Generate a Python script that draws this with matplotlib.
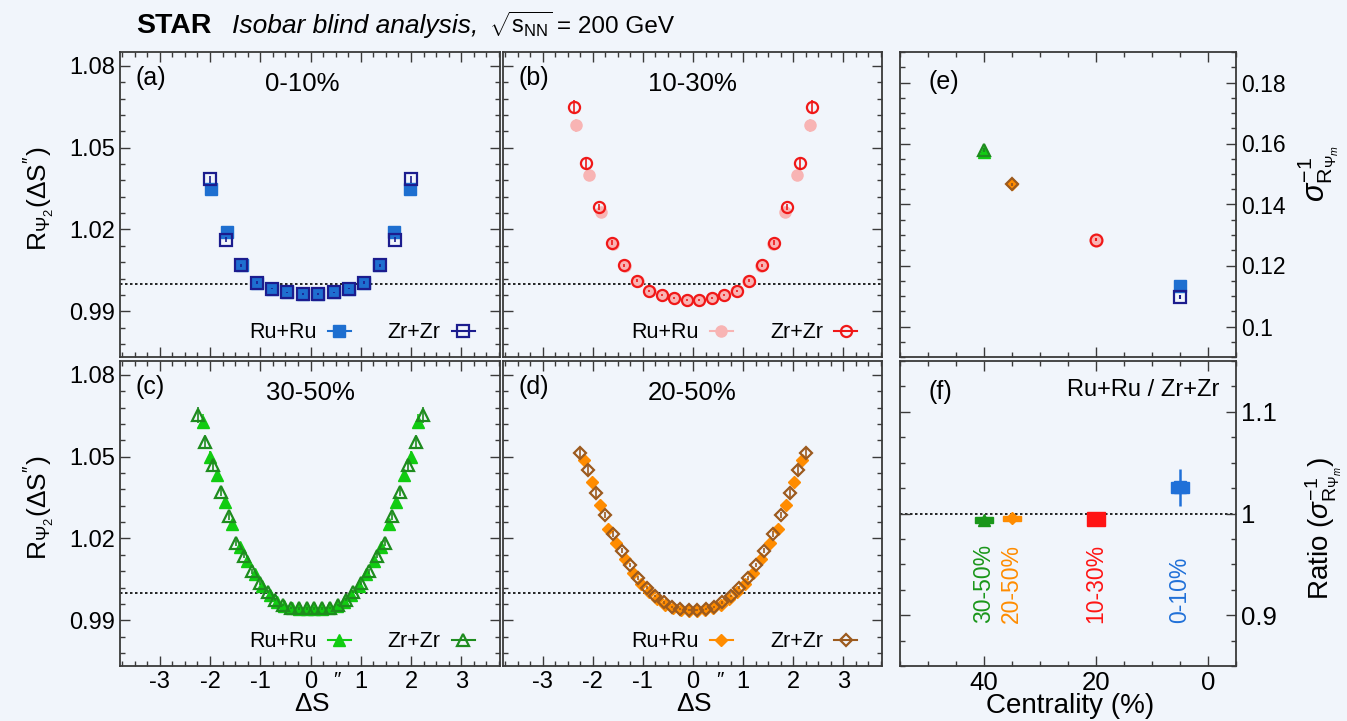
import matplotlib
matplotlib.use('Agg')
import matplotlib.pyplot as plt
from matplotlib.lines import Line2D
from matplotlib.ticker import MultipleLocator, FixedLocator, FixedFormatter
import matplotlib.transforms as mtransforms

plt.rcParams['font.family'] = ['Liberation Sans', 'DejaVu Sans']
plt.rcParams['mathtext.fontset'] = 'custom'
plt.rcParams['mathtext.rm'] = 'Liberation Sans'
plt.rcParams['mathtext.it'] = 'Liberation Sans:italic'
plt.rcParams['mathtext.bf'] = 'Liberation Sans:bold'
plt.rcParams['axes.unicode_minus'] = False

# ---------------- data ----------------
# (a) 0-10%
a_zr_x = [-1.99, -1.69, -1.38, -1.07, -0.77, -0.46, -0.15, 0.15, 0.46, 0.77, 1.07, 1.38, 1.69, 1.99]
a_zr_y = [1.0384, 1.0163, 1.0069, 1.0005, 0.9983, 0.9969, 0.9963, 0.9963, 0.9969, 0.9983, 1.0005, 1.0069, 1.0163, 1.0384]
a_zr_e = [0.0012, 0.0008, 0.0005, 0.0004, 0.0003, 0.0003, 0.0003, 0.0003, 0.0003, 0.0003, 0.0004, 0.0005, 0.0008, 0.0012]
a_ru_x = [-1.97, -1.67, -1.37, -1.06, -0.76, -0.46, -0.15, 0.15, 0.46, 0.76, 1.06, 1.37, 1.67, 1.97]
a_ru_y = [1.0347, 1.0191, 1.0068, 1.0004, 0.9983, 0.9969, 0.9963, 0.9963, 0.9969, 0.9983, 1.0004, 1.0068, 1.0191, 1.0347]
a_ru_e = [0.0012, 0.0008, 0.0005, 0.0004, 0.0003, 0.0003, 0.0003, 0.0003, 0.0003, 0.0003, 0.0004, 0.0005, 0.0008, 0.0012]

# (b) 10-30%
b_zr_x = [-2.375, -2.125, -1.875, -1.625, -1.375, -1.125, -0.875, -0.625, -0.375, -0.125,
          0.125, 0.375, 0.625, 0.875, 1.125, 1.375, 1.625, 1.875, 2.125, 2.375]
b_zr_y = [1.0651, 1.0443, 1.0283, 1.0152, 1.0069, 1.0012, 0.9975, 0.9959, 0.9948, 0.9942,
          0.9942, 0.9948, 0.9959, 0.9975, 1.0012, 1.0069, 1.0152, 1.0283, 1.0443, 1.0651]
b_zr_e = [0.0025, 0.0018, 0.0012, 0.0008, 0.0006, 0.0005, 0.0004, 0.0004, 0.0004, 0.0004,
          0.0004, 0.0004, 0.0004, 0.0004, 0.0005, 0.0006, 0.0008, 0.0012, 0.0018, 0.0025]
b_ru_x = [-2.33, -2.08, -1.84, -1.59, -1.35, -1.10, -0.86, -0.61, -0.37, -0.12,
          0.12, 0.37, 0.61, 0.86, 1.10, 1.35, 1.59, 1.84, 2.08, 2.33]
b_ru_y = [1.0583, 1.0400, 1.0265, 1.0145, 1.0065, 1.0010, 0.9974, 0.9958, 0.9947, 0.9941,
          0.9941, 0.9947, 0.9958, 0.9974, 1.0010, 1.0065, 1.0145, 1.0265, 1.0400, 1.0583]
b_ru_e = [0.0024, 0.0017, 0.0011, 0.0008, 0.0006, 0.0005, 0.0004, 0.0004, 0.0004, 0.0004,
          0.0004, 0.0004, 0.0004, 0.0004, 0.0005, 0.0006, 0.0008, 0.0011, 0.0017, 0.0024]

# (c) 30-50%
c_zr_x = [-2.248, -2.093, -1.938, -1.783, -1.628, -1.473, -1.318, -1.163, -1.008, -0.853, -0.698, -0.543, -0.388, -0.233, -0.078,
          0.078, 0.233, 0.388, 0.543, 0.698, 0.853, 1.008, 1.163, 1.318, 1.473, 1.628, 1.783, 1.938, 2.093, 2.248]
c_zr_y = [1.0653, 1.0555, 1.0469, 1.0371, 1.0281, 1.0183, 1.0136, 1.0079, 1.0036, 1.0004, 0.9975, 0.9956, 0.9946, 0.9943, 0.9943,
          0.9943, 0.9943, 0.9946, 0.9956, 0.9975, 1.0004, 1.0036, 1.0079, 1.0136, 1.0183, 1.0281, 1.0371, 1.0469, 1.0555, 1.0653]
c_zr_e = [0.0028, 0.0024, 0.0020, 0.0016, 0.0013, 0.0011, 0.0009, 0.0008, 0.0007, 0.0006, 0.0005, 0.0005, 0.0004, 0.0004, 0.0004,
          0.0004, 0.0004, 0.0004, 0.0005, 0.0005, 0.0006, 0.0007, 0.0008, 0.0009, 0.0011, 0.0013, 0.0016, 0.0020, 0.0024, 0.0028]
c_ru_x = [-2.147, -1.999, -1.851, -1.703, -1.555, -1.407, -1.259, -1.111, -0.963, -0.815, -0.667, -0.518, -0.370, -0.222, -0.074,
          0.074, 0.222, 0.370, 0.518, 0.667, 0.815, 0.963, 1.111, 1.259, 1.407, 1.555, 1.703, 1.851, 1.999, 2.147]
c_ru_y = [1.0629, 1.0497, 1.0433, 1.0335, 1.0253, 1.0167, 1.0118, 1.0069, 1.0026, 0.9992, 0.9968, 0.9953, 0.9945, 0.9942, 0.9942,
          0.9942, 0.9942, 0.9945, 0.9953, 0.9968, 0.9992, 1.0026, 1.0069, 1.0118, 1.0167, 1.0253, 1.0335, 1.0433, 1.0497, 1.0629]
c_ru_e = [0.0026, 0.0022, 0.0019, 0.0015, 0.0012, 0.0010, 0.0009, 0.0008, 0.0007, 0.0006, 0.0005, 0.0005, 0.0004, 0.0004, 0.0004,
          0.0004, 0.0004, 0.0004, 0.0005, 0.0005, 0.0006, 0.0007, 0.0008, 0.0009, 0.0010, 0.0012, 0.0015, 0.0019, 0.0022, 0.0026]

# (d) 20-50%
d_zr_x = [-2.260, -2.093, -1.925, -1.758, -1.591, -1.423, -1.256, -1.088, -0.921, -0.754, -0.586, -0.419, -0.251, -0.084,
          0.084, 0.251, 0.419, 0.586, 0.754, 0.921, 1.088, 1.256, 1.423, 1.591, 1.758, 1.925, 2.093, 2.260]
d_zr_y = [1.0512, 1.0451, 1.0365, 1.0286, 1.0216, 1.0155, 1.0103, 1.0054, 1.0020, 0.9989, 0.9965, 0.9949, 0.9940, 0.9937,
          0.9937, 0.9940, 0.9949, 0.9965, 0.9989, 1.0020, 1.0054, 1.0103, 1.0155, 1.0216, 1.0286, 1.0365, 1.0451, 1.0512]
d_zr_e = [0.0022, 0.0018, 0.0015, 0.0012, 0.0010, 0.0009, 0.0008, 0.0007, 0.0006, 0.0005, 0.0005, 0.0004, 0.0004, 0.0004,
          0.0004, 0.0004, 0.0004, 0.0005, 0.0005, 0.0006, 0.0007, 0.0008, 0.0009, 0.0010, 0.0012, 0.0015, 0.0018, 0.0022]
d_ru_x = [-2.170, -2.009, -1.848, -1.688, -1.527, -1.366, -1.206, -1.045, -0.884, -0.724, -0.563, -0.402, -0.241, -0.081,
          0.081, 0.241, 0.402, 0.563, 0.724, 0.884, 1.045, 1.206, 1.366, 1.527, 1.688, 1.848, 2.009, 2.170]
d_ru_y = [1.0488, 1.0406, 1.0324, 1.0234, 1.0185, 1.0124, 1.0075, 1.0034, 1.0005, 0.9977, 0.9956, 0.9944, 0.9938, 0.9934,
          0.9934, 0.9938, 0.9944, 0.9956, 0.9977, 1.0005, 1.0034, 1.0075, 1.0124, 1.0185, 1.0234, 1.0324, 1.0406, 1.0488]
d_ru_e = [0.0021, 0.0017, 0.0014, 0.0011, 0.0010, 0.0009, 0.0008, 0.0007, 0.0006, 0.0005, 0.0005, 0.0004, 0.0004, 0.0004,
          0.0004, 0.0004, 0.0004, 0.0005, 0.0005, 0.0006, 0.0007, 0.0008, 0.0009, 0.0010, 0.0011, 0.0014, 0.0017, 0.0021]

# (e) sigma^-1 vs centrality ; (f) ratio
cent = [40, 35, 20, 5]
cent_labels = ['30-50%', '20-50%', '10-30%', '0-10%']
e_ru = [0.1572, 0.1467, 0.1284, 0.1133]
e_zr = [0.1578, 0.1467, 0.1284, 0.1096]
e_err = [0.0006, 0.0005, 0.0005, 0.0006]
f_ratio = [0.9934, 0.9951, 0.9944, 1.0256]
f_stat = [0.003, 0.002, 0.003, 0.018]
f_syst = [0.0030, 0.0020, 0.0070, 0.0057]

R_yticks = [0.99, 1.02, 1.05, 1.08]
R_yticklabels = ['0.99', '1.02', '1.05', '1.08']
S_xticks = [-3, -2, -1, 0, 1, 2, 3]
S_xticklabels = ['-3', '-2', '-1', '0', '1', '2', '3']
C_xticks = [40, 20, 0]
C_xticklabels = ['40', '20', '0']
E_yticks = [0.10, 0.12, 0.14, 0.16, 0.18]
E_yticklabels = ['0.1', '0.12', '0.14', '0.16', '0.18']
F_yticks = [0.9, 1.0, 1.1]
F_yticklabels = ['0.9', '1', '1.1']

# ---------------- style ----------------
BG = '#f1f5fb'
SP = '#3a3a3a'
ru_col = ['#1e6fd0', '#f8b4b4', '#11cc11', '#ff8c00']
zr_col = ['#1c1c8e', '#f01818', '#1e8c1e', '#9c5a1e']
lab_col = ['#1a961a', '#ff8c00', '#ff1414', '#2070d8']

W, H = 1347, 721
fig = plt.figure(figsize=(W / 100, H / 100), dpi=100, facecolor=BG)


def add_ax(x0, x1, y0, y1):
    return fig.add_axes([x0 / W, 1 - y1 / H, (x1 - x0) / W, (y1 - y0) / H])


def style(ax):
    ax.set_facecolor(BG)
    for s in ax.spines.values():
        s.set_color(SP)
        s.set_linewidth(1.3)
    ax.tick_params(which='both', direction='in', top=True, right=True, left=True, bottom=True,
                   color=SP, labelcolor='black', width=1.0)
    ax.tick_params(which='major', length=7)
    ax.tick_params(which='minor', length=3.5)


def R_panel(ax, rx, ry, re, zx, zy, ze, mk, ms, rc, zc, tag, title, title_x, bottom):
    style(ax)
    ax.axhline(1.0, color='black', ls=(0, (1.5, 1.5)), lw=1.2, zorder=1)
    ax.errorbar(rx, ry, yerr=re, fmt=mk, ms=ms, mfc=rc, mec=rc, ecolor=rc, elinewidth=1.2, capsize=0, zorder=2)
    ax.errorbar(zx, zy, yerr=ze, fmt=mk, ms=ms, mfc='none', mec=zc, mew=1.6, ecolor=zc,
                elinewidth=1.2, capsize=0, zorder=3)
    ax.set_xlim(-3.79, 3.77)
    ax.set_ylim(0.9732, 1.0851)
    ax.yaxis.set_major_locator(FixedLocator(R_yticks))
    ax.yaxis.set_major_formatter(FixedFormatter(R_yticklabels))
    ax.yaxis.set_minor_locator(MultipleLocator(0.006))
    ax.xaxis.set_major_locator(FixedLocator(S_xticks))
    ax.xaxis.set_major_formatter(FixedFormatter(S_xticklabels))
    ax.xaxis.set_minor_locator(MultipleLocator(0.25))
    ax.tick_params(labelsize=17)
    if not bottom:
        ax.tick_params(labelbottom=False)
    ax.text(0.04, 0.955, tag, transform=ax.transAxes, ha='left', va='top', fontsize=18)
    ax.text(title_x, 0.895, title, transform=ax.transAxes, ha='center', va='center', fontsize=18.5)
    h_ru = Line2D([], [], marker=mk, ms=ms, color=rc, mfc=rc, mec=rc, lw=1.5)
    h_zr = Line2D([], [], marker=mk, ms=ms, color=zc, mfc='none', mec=zc, mew=1.6, lw=1.5)
    ax.legend([h_ru, h_zr], ['Ru+Ru', 'Zr+Zr'], loc='center right', bbox_to_anchor=(0.935, 0.079),
              ncol=2, frameon=False, markerfirst=False, fontsize=15.5, handlelength=1.1,
              columnspacing=1.7, handletextpad=0.5, borderpad=0, borderaxespad=0)
    if bottom:
        ax.set_xlabel(r'$\Delta\mathrm{S}$', fontsize=19)
        ax.xaxis.set_label_coords(0.505, -0.085)
        trans = mtransforms.blended_transform_factory(ax.transData, ax.transAxes)
        ax.text(0.53, -0.046, '\u2033', transform=trans, ha='center', va='center', fontsize=15)


ax_a = add_ax(120, 500, 52, 357)
ax_b = add_ax(503, 882, 52, 357)
ax_c = add_ax(120, 500, 361, 666)
ax_d = add_ax(503, 882, 361, 666)
ax_e = add_ax(899.5, 1236, 52, 357)
ax_f = add_ax(899.5, 1236, 361, 666)

R_panel(ax_a, a_ru_x, a_ru_y, a_ru_e, a_zr_x, a_zr_y, a_zr_e, 's', 8.5, ru_col[0], zr_col[0], '(a)', '0-10%', 0.48, False)
R_panel(ax_b, b_ru_x, b_ru_y, b_ru_e, b_zr_x, b_zr_y, b_zr_e, 'o', 8.0, ru_col[1], zr_col[1], '(b)', '10-30%', 0.50, False)
R_panel(ax_c, c_ru_x, c_ru_y, c_ru_e, c_zr_x, c_zr_y, c_zr_e, '^', 9.0, ru_col[2], zr_col[2], '(c)', '30-50%', 0.50, True)
R_panel(ax_d, d_ru_x, d_ru_y, d_ru_e, d_zr_x, d_zr_y, d_zr_e, 'D', 6.3, ru_col[3], zr_col[3], '(d)', '20-50%', 0.50, True)

ylab = r'$\mathrm{R}_{\Psi_{2}}(\Delta\mathrm{S}^{\prime\prime})$'
for ax in (ax_a, ax_c):
    ax.set_ylabel(ylab, fontsize=19)
    ax.yaxis.set_label_coords(-0.165, 0.52)
for ax in (ax_b, ax_d):
    ax.tick_params(labelleft=False)

# (e)
e_mk = ['^', 'D', 'o', 's']
e_ms = [9, 5.8, 8.5, 9]
e_ci = [2, 3, 1, 0]
style(ax_e)
for i in range(len(cent)):
    rc = ru_col[e_ci[i]]
    zc = zr_col[e_ci[i]]
    ax_e.errorbar([cent[i]], [e_ru[i]], yerr=[e_err[i]], fmt=e_mk[i], ms=e_ms[i], mfc=rc,
                  mec=rc, ecolor=rc, capsize=0, zorder=2)
    ax_e.errorbar([cent[i]], [e_zr[i]], yerr=[e_err[i]], fmt=e_mk[i], ms=e_ms[i], mfc='none',
                  mec=zc, mew=1.6, ecolor=zc, capsize=0, zorder=3)
ax_e.set_xlim(55, -5)
ax_e.set_ylim(0.09, 0.19)
ax_e.xaxis.set_major_locator(FixedLocator(C_xticks))
ax_e.xaxis.set_minor_locator(MultipleLocator(5))
ax_e.yaxis.set_major_locator(FixedLocator(E_yticks))
ax_e.yaxis.set_major_formatter(FixedFormatter(E_yticklabels))
ax_e.yaxis.set_minor_locator(MultipleLocator(0.005))
ax_e.tick_params(labelbottom=False, labelleft=False, labelright=True, labelsize=16.5)
ax_e.text(0.085, 0.9, '(e)', transform=ax_e.transAxes, ha='left', va='center', fontsize=18)
ax_e.yaxis.set_label_position('right')
ax_e.set_ylabel(r'$\sigma^{-1}_{\mathrm{R}_{\Psi_{m}}}$', fontsize=22)
ax_e.yaxis.set_label_coords(1.175, 0.6)

# (f)
style(ax_f)
ax_f.axhline(1.0, color='black', ls=(0, (1.5, 1.5)), lw=1.2, zorder=1)
f_mk = ['^', 'D', 's', 's']
f_ms = [8, 5.8, 7.5, 9]
for i in range(len(cent)):
    col = lab_col[i]
    ax_f.bar([cent[i]], [2 * f_syst[i]], bottom=[f_ratio[i] - f_syst[i]], width=3.2,
             color=col, edgecolor=col, lw=1.0, zorder=2)
    ax_f.errorbar([cent[i]], [f_ratio[i]], yerr=[f_stat[i]], fmt=f_mk[i], ms=f_ms[i], mfc=col, mec=col,
                  ecolor=col, elinewidth=1.8, capsize=0, zorder=3)
    ax_f.text(cent[i], 0.892, cent_labels[i], rotation=90, ha='center', va='bottom', color=col, fontsize=16.5)
ax_f.set_xlim(55, -5)
ax_f.set_ylim(0.85, 1.15)
ax_f.xaxis.set_major_locator(FixedLocator(C_xticks))
ax_f.xaxis.set_major_formatter(FixedFormatter(C_xticklabels))
ax_f.xaxis.set_minor_locator(MultipleLocator(5))
ax_f.yaxis.set_major_locator(FixedLocator(F_yticks))
ax_f.yaxis.set_major_formatter(FixedFormatter(F_yticklabels))
ax_f.yaxis.set_minor_locator(MultipleLocator(0.025))
ax_f.tick_params(labelleft=False, labelright=True, labelsize=18.5)
ax_f.text(0.085, 0.9, '(f)', transform=ax_f.transAxes, ha='left', va='center', fontsize=18)
ax_f.text(0.952, 0.905, 'Ru+Ru / Zr+Zr', transform=ax_f.transAxes, ha='right', va='center', fontsize=17)
ax_f.set_xlabel('Centrality (%)', fontsize=20)
ax_f.xaxis.set_label_coords(0.507, -0.088)
ax_f.yaxis.set_label_position('right')
ax_f.set_ylabel(r'Ratio ($\sigma^{-1}_{\mathrm{R}_{\Psi_{m}}}$)', fontsize=20)
ax_f.yaxis.set_label_coords(1.2, 0.45)

# title
fig.text(136 / W, 1 - 33 / H, 'STAR', fontsize=20.5, fontweight='bold', va='baseline', ha='left')
fig.text(232 / W, 1 - 33 / H, 'Isobar blind analysis,', fontsize=19, style='italic', va='baseline', ha='left')
fig.text(489 / W, 1 - 33 / H, r'$\sqrt{\mathrm{s}_{\mathrm{NN}}}$', fontsize=17, va='baseline', ha='left')
fig.text(557 / W, 1 - 33 / H, '= 200 GeV', fontsize=17.5, va='baseline', ha='left')

fig.savefig('out.png', dpi=100, facecolor=BG)
